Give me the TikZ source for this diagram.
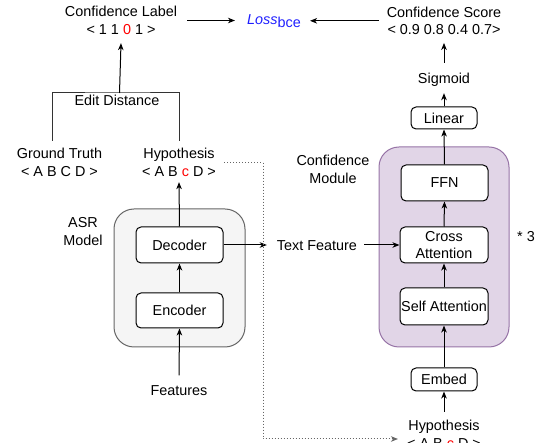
\documentclass[tikz,border=0pt]{standalone}
\usepackage{fontspec}
\setmainfont{Liberation Sans}
\usetikzlibrary{arrows.meta,calc}
\definecolor{asrfill}{HTML}{F5F5F5}
\definecolor{asrline}{HTML}{666666}
\definecolor{cmfill}{HTML}{E1D5E7}
\definecolor{cmline}{HTML}{9673A6}
\definecolor{lossblue}{HTML}{1F1FFF}
\definecolor{hlred}{HTML}{FF0000}
\definecolor{dotgrey}{HTML}{666666}
\begin{document}
\begin{tikzpicture}[x=1pt,y=-1pt,
  fnt/.style={font=\fontsize{14.4}{17.3}\selectfont},
  txt/.style={fnt, inner sep=0pt, align=center},
  blk/.style={fnt, draw=black, fill=white, rounded corners=5pt, align=center, inner sep=0pt, line width=1pt},
  bigblk/.style={blk, minimum width=88pt, minimum height=36pt},
  smallblk/.style={blk, minimum width=66pt, minimum height=22pt},
  asrbox/.style={draw=asrline, fill=asrfill, rounded corners=20pt, line width=1pt, inner sep=0pt},
  cmbox/.style={draw=cmline, fill=cmfill, rounded corners=20pt, line width=1pt, inner sep=0pt},
  arr/.style={-{Stealth[length=7pt,width=5.5pt,inset=2pt]}, line width=1pt},
  plain/.style={line width=1pt, draw=black!80},
  dotarr/.style={-{Stealth[length=7pt,width=5.5pt,inset=2pt]}, line width=1pt, dotted, draw=dotgrey}
]
\useasboundingbox (0,0) rectangle (542,443);
\clip (0,0) rectangle (542,443);

% containers
\node[asrbox, minimum width=131pt, minimum height=138pt] (asr) at (179.5,278) {};
\node[cmbox, minimum width=130pt, minimum height=200pt] (cm) at (444,247) {};

% top texts
\node[txt] (cl) at (121,20.5) {Confidence Label\\< 1 1 {\color{hlred}0} 1 >};
\node[txt, anchor=base west, text=lossblue] (loss) at (247,24.5) {{\itshape Loss}\raisebox{-3pt}{bce}};
\node[txt] (cs) at (444,20.8) {Confidence Score\\< 0.9 0.8 0.4 0.7>};
\node[txt, anchor=base] (sig) at (444,84) {Sigmoid};

% left side
\node[txt, anchor=base] (ed) at (117,106) {Edit Distance};
\node[txt] (gt) at (59.5,162.5) {Ground Truth\\< A B C D >};
\node[txt] (hyp1) at (179,162.5) {Hypothesis\\< A B {\color{hlred}c} D >};
\node[txt] (asrl) at (83,231.5) {ASR\\Model};
\node[bigblk, minimum width=87pt] (dec) at (179.5,245) {Decoder};
\node[bigblk, minimum width=87pt, minimum height=35pt] (enc) at (179.5,310.5) {Encoder};
\node[txt, anchor=base] (feat) at (179,396) {Features};

% right side
\node[smallblk] (lin) at (444,118) {Linear};
\node[txt] (cml) at (333,169.5) {Confidence\\Module};
\node[bigblk, minimum width=87pt] (ffn) at (444.5,183) {FFN};
\node[bigblk] (cross) at (444,245) {Cross\\Attention};
\node[bigblk, minimum height=37pt] (self) at (444,306.5) {Self Attention};
\node[txt, anchor=base] (times) at (526,241.7) {* 3};
\node[txt, anchor=base] (tf) at (317,251) {Text Feature};
\node[smallblk, minimum height=23pt] (emb) at (444,379.5) {Embed};
\node[txt] (hyp2) at (444,434.5) {Hypothesis\\< A B {\color{hlred}c} D >};

% connectors
\draw[arr] ([xshift=10pt]cl.east) -- ($(cl.east -| loss.west)+(-12pt,0)$);
\draw[arr] ([xshift=-8pt]cs.west) -- ($(cs.west -| loss.east)+(9pt,0)$);
\coordinate (edt) at (119.5,93);
\draw[plain] ([xshift=-7.5pt,yshift=7.5pt]gt.north) |- (edt) -| ([yshift=7.5pt]hyp1.north);
\draw[arr] (edt) -- ([yshift=-8.5pt]cl.south);
\draw[arr] ([yshift=10.5pt]sig.north) -- ([yshift=-8pt]cs.south);
\draw[arr] (lin.north) -- ([yshift=-6pt]sig.south);
\draw[arr] (ffn.north) -- (lin.south);
\draw[arr] (cross.north) -- (ffn.south);
\draw[arr] (self.north) -- (cross.south);
\draw[arr] (emb.north) -- (self.south);
\draw[arr] ([yshift=8.5pt]hyp2.north) -- (emb.south);
\draw[arr] (dec.north) -- ([yshift=-5.5pt]hyp1.south);
\draw[arr] (enc.north) -- (dec.south);
\draw[arr] ([yshift=10.5pt]feat.north) -- (enc.south);
\draw[arr] (dec.east) -- ($(dec.east -| tf.west)+(-10pt,0)$);
\draw[arr] ([xshift=7pt]tf.east |- cross.west) -- (cross.west);
\coordinate (dc) at (263,439);
\draw[dotarr] ([xshift=8pt]hyp1.east) -| (dc) -- ($(dc -| hyp2.west)+(-9pt,0)$);
\end{tikzpicture}
\end{document}
